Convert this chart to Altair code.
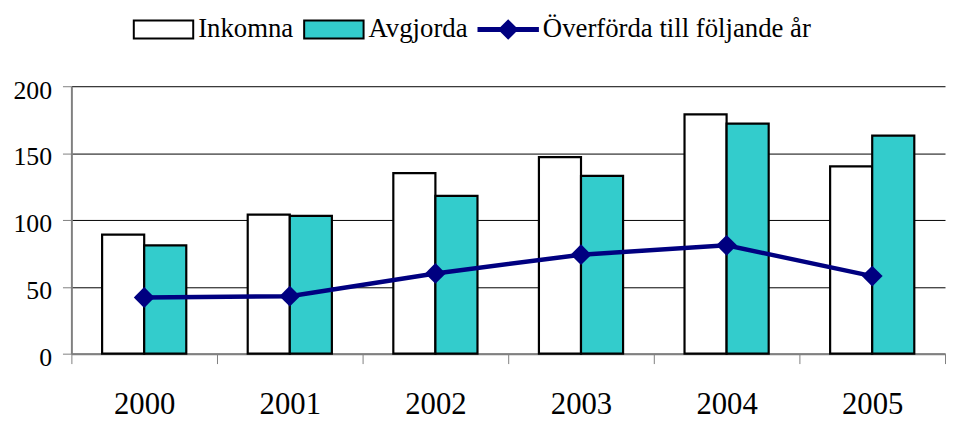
import altair as alt
import pandas as pd

years = ["2000", "2001", "2002", "2003", "2004", "2005"]
inkomna = [89, 104, 135, 147, 179, 140]
avgjorda = [81, 103, 118, 133, 172, 163]
overforda = [42, 43, 60, 74, 81, 58]
series = ["Inkomna", "Avgjorda", "Överförda till följande år"]
colors = ["#FFFFFF", "#33CCCC", "#000080"]
legend_strokes = ["#000000", "#000000", "#000080"]
legend_shapes = [
    "M-1,-0.667H3.444V0.667H-1Z",
    "M-1,-0.667H3.444V0.667H-1Z",
    "M-1,-0.111H3.444V0.111H-1Z M1.222,-0.667L1.889,0L1.222,0.667L0.556,0Z",
]

bars_df = pd.DataFrame({
    "year": years * 2,
    "serie": [series[0]] * len(years) + [series[1]] * len(years),
    "value": inkomna + avgjorda,
})
line_df = pd.DataFrame({"year": years, "serie": series[2], "value": overforda})
legend_df = pd.DataFrame({"serie": series})

font = "Liberation Serif"

x = alt.X(
    "year:N", sort=years,
    scale=alt.Scale(paddingInner=0, paddingOuter=0),
    axis=alt.Axis(title=None, labelAngle=0, labelFontSize=31, labelFont=font,
                  labelColor="black", tickBand="extent", tickSize=10,
                  tickColor="#808080", tickWidth=1, domainColor="#808080",
                  domainWidth=2, labelPadding=26, grid=False),
)
y = alt.Y(
    "value:Q",
    scale=alt.Scale(domain=[0, 200]),
    axis=alt.Axis(title=None, values=[0, 50, 100, 150, 200], labelFontSize=26,
                  labelFont=font, labelColor="black", tickSize=9,
                  tickColor="#808080", domainColor="#808080", domainWidth=2,
                  gridColor="black", gridWidth=1, labelPadding=11, labelOffset=4),
)

bars = alt.Chart(bars_df).mark_bar(stroke="black", strokeWidth=2.2, opacity=1).encode(
    x=x,
    xOffset=alt.XOffset("serie:N", sort=series[:2],
                        scale=alt.Scale(paddingInner=0, paddingOuter=0.73)),
    y=y,
    color=alt.Color("serie:N", scale=alt.Scale(domain=series[:2], range=colors[:2]),
                    legend=None),
)

line = alt.Chart(line_df).mark_line(color="#000080", strokeWidth=4.5).encode(x=x, y=y)
points = alt.Chart(line_df).mark_point(
    shape="diamond", size=441, filled=True, color="#000080", opacity=1
).encode(x=x, y=y)

leg = dict(orient="none", legendX=62, legendY=-72, direction="horizontal",
           columns=3, title=None, labelFont=font, labelFontSize=27,
           labelColor="black", symbolSize=729, symbolStrokeWidth=2,
           labelOffset=37, columnPadding=7, padding=0, labelLimit=500)

legend_layer = alt.Chart(legend_df).mark_point(filled=True, opacity=1).encode(
    fill=alt.Fill("serie:N", scale=alt.Scale(domain=series, range=colors),
                  legend=alt.Legend(**leg)),
    shape=alt.Shape("serie:N", scale=alt.Scale(domain=series, range=legend_shapes),
                    legend=alt.Legend(**leg)),
    stroke=alt.Stroke("serie:N", scale=alt.Scale(domain=series, range=legend_strokes),
                      legend=alt.Legend(**leg)),
).transform_filter("false")

chart = alt.layer(bars, line, points, legend_layer).properties(
    width=882, height=270,
    padding={"left": 5, "top": 5, "right": 0, "bottom": 0},
    background="white",
).configure_view(stroke=None)

chart.save("out.html", embed_options={"renderer": "svg", "actions": False})
